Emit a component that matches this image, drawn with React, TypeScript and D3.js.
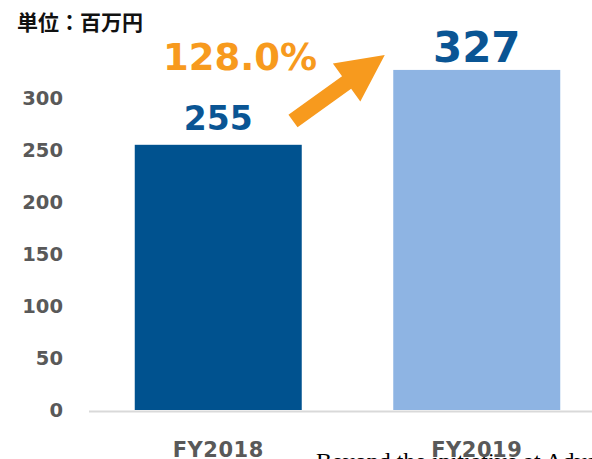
import { useEffect, useRef } from 'react';
import * as d3 from 'd3';

const categories = ['FY2018', 'FY2019'];
const values = [255, 327];
const yTicks = [0, 50, 100, 150, 200, 250, 300];
const growthLabel = '128.0%';
const unitLabel = '単位：百万円';
const barColors = ['#00528F', '#8EB4E3'];

const W = 592;
const H = 459;

function App() {
  const svgRef = useRef<SVGSVGElement>(null);

  useEffect(() => {
    const svg = d3.select(svgRef.current);
    svg.selectAll('*').remove();

    const font = '"DejaVu Sans", Verdana, sans-serif';

    const x = d3
      .scaleBand<string>()
      .domain(categories)
      .range([89, 606])
      .paddingInner(0.354)
      .paddingOuter(0.177);

    const y = d3.scaleLinear().domain([0, 350]).range([410, 46]);

    // stray page text bleeding in at the bottom (sits under the axis labels)
    svg
      .append('text')
      .attr('x', 316)
      .attr('y', 469)
      .style('font-family', '"Liberation Serif", serif')
      .style('font-size', '24px')
      .style('fill', '#000')
      .text('Beyond the initiative at Advance');

    // unit label
    svg
      .append('text')
      .attr('x', 17)
      .attr('y', 30)
      .style('font-family', '"Noto Sans CJK JP", sans-serif')
      .style('font-weight', '700')
      .style('font-size', '21px')
      .style('fill', '#111')
      .text(unitLabel);

    // y tick labels
    svg
      .selectAll('text.ytick')
      .data(yTicks)
      .enter()
      .append('text')
      .attr('class', 'ytick')
      .attr('x', 63)
      .attr('y', d => y(d))
      .attr('dy', '0.35em')
      .attr('text-anchor', 'end')
      .style('font-family', font)
      .style('font-weight', '700')
      .style('font-size', '19.5px')
      .style('fill', '#595959')
      .text(d => d);

    // bars
    svg
      .selectAll('rect.bar')
      .data(values)
      .enter()
      .append('rect')
      .attr('class', 'bar')
      .attr('x', (_, i) => x(categories[i]) as number)
      .attr('y', d => y(d))
      .attr('width', x.bandwidth())
      .attr('height', d => y(0) - y(d))
      .style('fill', (_, i) => barColors[i]);

    // baseline
    svg
      .append('line')
      .attr('x1', 89)
      .attr('x2', W)
      .attr('y1', y(0) + 1.5)
      .attr('y2', y(0) + 1.5)
      .style('stroke', '#d9d9d9')
      .style('stroke-width', 2);

    // value labels
    const labelSizes = [33, 42];
    svg
      .selectAll('text.val')
      .data(values)
      .enter()
      .append('text')
      .attr('class', 'val')
      .attr('x', (_, i) => (x(categories[i]) as number) + x.bandwidth() / 2)
      .attr('y', (d, i) => y(d) - (i === 0 ? 15 : 8))
      .attr('text-anchor', 'middle')
      .style('font-family', font)
      .style('font-weight', '700')
      .style('font-size', (_, i) => `${labelSizes[i]}px`)
      .style('fill', '#0A5594')
      .text(d => d);

    // category labels
    svg
      .selectAll('text.cat')
      .data(categories)
      .enter()
      .append('text')
      .attr('class', 'cat')
      .attr('x', d => (x(d) as number) + x.bandwidth() / 2)
      .attr('y', 457)
      .attr('text-anchor', 'middle')
      .style('font-family', font)
      .style('font-weight', '700')
      .style('font-size', '21px')
      .style('letter-spacing', '0.5px')
      .style('fill', '#595959')
      .text(d => d);

    // growth label
    svg
      .append('text')
      .attr('x', 240)
      .attr('y', 70)
      .attr('text-anchor', 'middle')
      .style('font-family', font)
      .style('font-weight', '700')
      .style('font-size', '37px')
      .style('fill', '#F79A1E')
      .text(growthLabel);

    // arrow
    const len = 113;
    const shaft = 15.6;
    const headW = 47;
    const headL = 47;
    const arrowPts: [number, number][] = [
      [0, -shaft / 2],
      [len - headL, -shaft / 2],
      [len - headL, -headW / 2],
      [len, 0],
      [len - headL, headW / 2],
      [len - headL, shaft / 2],
      [0, shaft / 2],
    ];
    svg
      .append('path')
      .attr('d', d3.line()(arrowPts) + 'Z')
      .attr('transform', 'translate(293,121) rotate(-35.7)')
      .style('fill', '#F79A1E');
  }, []);

  return (
    <svg
      ref={svgRef}
      width={W}
      height={H}
      style={{ position: 'absolute', left: 0, top: 0, display: 'block', background: '#fff' }}
    />
  );
}

export default App;
